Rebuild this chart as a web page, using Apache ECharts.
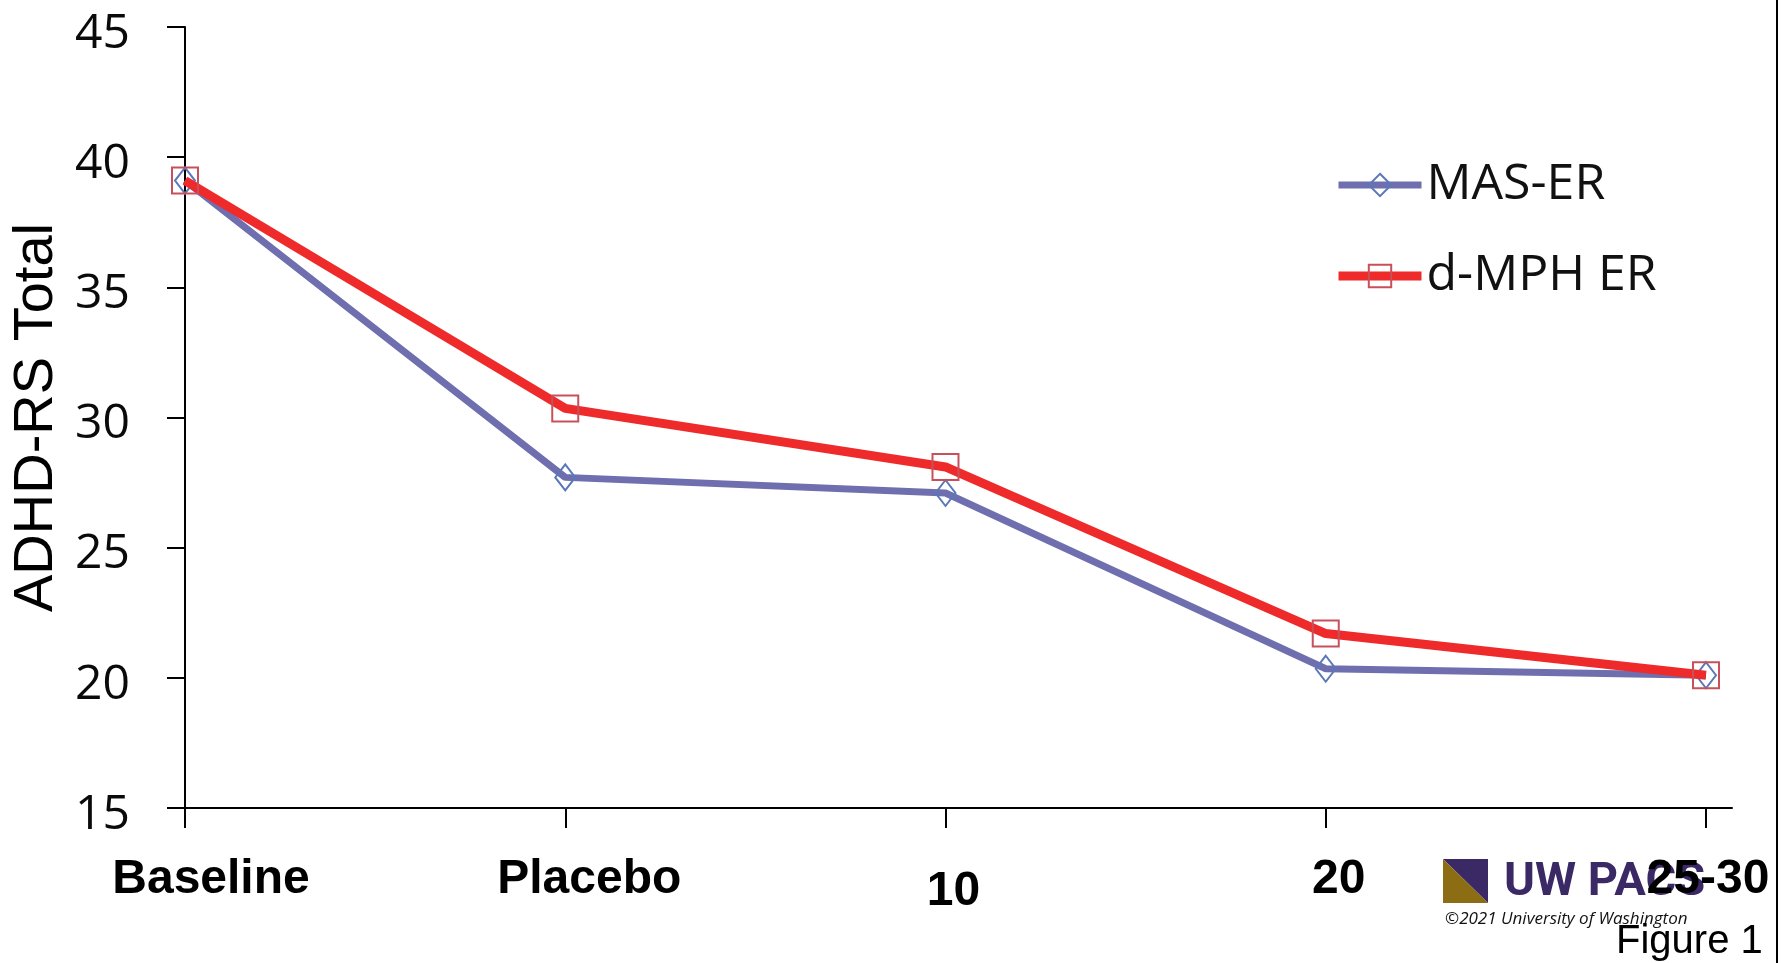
<!DOCTYPE html>
<html>
<head>
<meta charset="utf-8">
<script src="https://cdn.jsdelivr.net/npm/echarts@6/dist/echarts.min.js"></script>
<style>
html,body{margin:0;padding:0;background:#fff;}
#c{width:1787px;height:963px;}
</style>
</head>
<body>
<div id="c"></div>
<script>
const categories = ['Baseline', 'Placebo', '10', '20', '25-30'];
const masER = [39.1, 27.7, 27.1, 20.35, 20.1];
const dmphER = [39.1, 30.35, 28.1, 21.7, 20.1];
const seriesNames = ['MAS-ER', 'd-MPH ER'];
const yMin = 15, yMax = 45, yStep = 5;
const yAxisTitle = 'ADHD-RS Total';

const chart = echarts.init(document.getElementById('c'), null, {renderer: 'canvas'});

const labelRich = {
  s0: {padding: [0, 0, 0, 52]},
  s1: {padding: [0, 0, 0, 48]},
  s2: {padding: [12, 0, 0, 16]},
  s3: {padding: [0, 0, 0, 26]},
  s4: {padding: [0, 0, 0, 4]}
};

const option = {
  backgroundColor: '#ffffff',
  animation: false,
  grid: [
    {left: 185, right: 81, top: 27, bottom: 155, containLabel: false, outerBoundsMode: 'none'},
    {left: 185, right: 55, top: 27, bottom: 155, containLabel: false, outerBoundsMode: 'none'}
  ],
  legend: {
    orient: 'vertical',
    left: 1329,
    top: 155,
    itemWidth: 83,
    itemHeight: 28,
    itemGap: 41,
    textStyle: {fontFamily: 'Open Sans', fontSize: 50, color: '#111'},
    data: [
      {name: seriesNames[0], lineStyle: {width: 7, color: '#6f6fb0'}},
      {name: seriesNames[1], lineStyle: {width: 9, color: '#ee2a2a'}}
    ]
  },
  xAxis: [
    {
      type: 'category',
      gridIndex: 0,
      z: 10,
      data: categories,
      boundaryGap: false,
      axisLine: {show: true, lineStyle: {color: '#000', width: 2}},
      axisTick: {show: true, length: 20, lineStyle: {color: '#000', width: 2}},
      axisLabel: {
        margin: 48,
        color: '#000',
        fontFamily: 'Liberation Sans',
        fontWeight: 'bold',
        fontSize: 48,
        interval: 0,
        formatter: function (v) {
          const i = categories.indexOf(v);
          return '{s' + i + '|' + v + '}';
        },
        rich: labelRich
      },
      splitLine: {show: false}
    },
    {
      type: 'value',
      gridIndex: 1,
      min: 0, max: 1,
      axisLine: {show: true, lineStyle: {color: '#000', width: 2}},
      axisTick: {show: false},
      axisLabel: {show: false},
      splitLine: {show: false}
    }
  ],
  yAxis: [
    {
      type: 'value',
      gridIndex: 0,
      min: yMin, max: yMax, interval: yStep,
      name: yAxisTitle,
      nameLocation: 'middle',
      nameGap: 116,
      nameRotate: 90,
      nameTextStyle: {fontFamily: 'Liberation Sans', fontSize: 56, color: '#000'},
      axisLine: {show: true, lineStyle: {color: '#000', width: 2}},
      axisTick: {show: true, length: 18, lineStyle: {color: '#000', width: 2}},
      axisLabel: {
        margin: 55,
        fontFamily: 'Open Sans',
        fontSize: 48,
        color: '#0a0a0a',
        formatter: function (v) { return '{t|' + v + '}'; },
        rich: {t: {fontFamily: 'Open Sans', fontSize: 48, color: '#0a0a0a', padding: [14, 0, 0, 0]}}
      },
      splitLine: {show: false}
    },
    {
      type: 'value',
      gridIndex: 1,
      show: false,
      min: yMin, max: yMax
    }
  ],
  series: [
    {
      name: seriesNames[0],
      type: 'line',
      xAxisIndex: 0, yAxisIndex: 0,
      data: masER,
      symbol: 'diamond',
      symbolSize: [20, 26],
      lineStyle: {color: '#6f6fb0', width: 7},
      itemStyle: {color: 'rgba(255,255,255,0)', borderColor: '#5a78b8', borderWidth: 2},
      z: 2
    },
    {
      name: seriesNames[1],
      type: 'line',
      xAxisIndex: 0, yAxisIndex: 0,
      data: dmphER,
      symbol: 'rect',
      symbolSize: 26,
      lineStyle: {color: '#ee2a2a', width: 9},
      itemStyle: {color: 'rgba(255,255,255,0)', borderColor: '#c8505a', borderWidth: 2},
      z: 3
    }
  ],
  graphic: [
    {type: 'line', z: 0, shape: {x1: 1777, y1: 0, x2: 1777, y2: 963}, style: {stroke: '#000', lineWidth: 2}},
    {type: 'polygon', z: 0, shape: {points: [[1443, 859], [1488, 859], [1488, 903]]}, style: {fill: '#3b2966'}},
    {type: 'polygon', z: 0, shape: {points: [[1443, 859], [1443, 903], [1488, 903]]}, style: {fill: '#8c6d14'}},
    {type: 'text', z: 0, left: 1504, top: 860, style: {text: 'UW PACS', fontFamily: 'Roboto', fontWeight: 'bold', fontSize: 47, fill: '#3b2966'}},
    {type: 'text', z: 0, left: 1445, top: 911, style: {text: '\u00a92021 University of Washington', fontFamily: 'Open Sans', fontStyle: 'italic', fontSize: 17, fill: '#111'}},
    {type: 'text', z: 0, left: 1616, top: 922, style: {text: 'Figure 1', fontFamily: 'Liberation Sans', fontSize: 40, fill: '#000'}}
  ]
};
chart.setOption(option);
</script>
</body>
</html>
